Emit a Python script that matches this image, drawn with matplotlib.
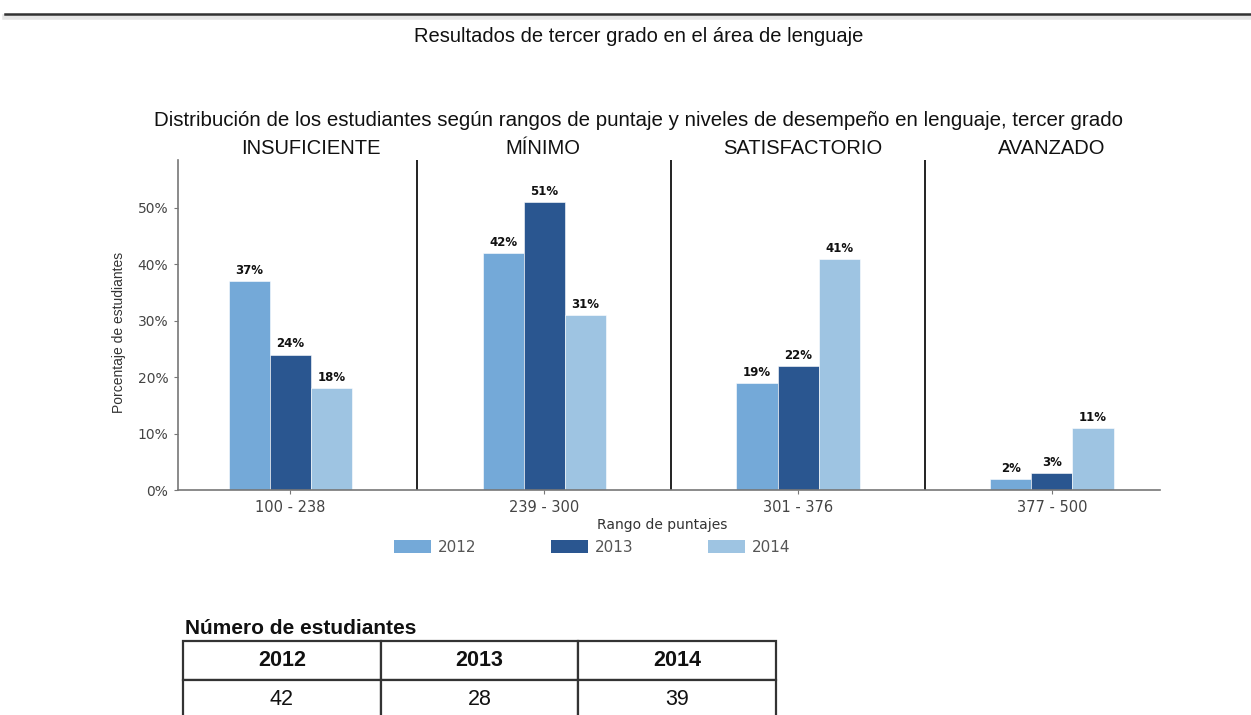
import matplotlib
matplotlib.use("Agg")
import matplotlib.pyplot as plt
from matplotlib.lines import Line2D
from matplotlib.patches import Patch
import numpy as np

plt.rcParams["font.family"] = ["DejaVu Sans"]

# ---- data ----
rangos = ["100 - 238", "239 - 300", "301 - 376", "377 - 500"]
niveles = ["INSUFICIENTE", "MÍNIMO", "SATISFACTORIO", "AVANZADO"]
years = ["2012", "2013", "2014"]
v2012 = [37, 42, 19, 2]
v2013 = [24, 51, 22, 3]
v2014 = [18, 31, 41, 11]
yticks = [0, 10, 20, 30, 40, 50]
num_estudiantes = ["42", "28", "39"]

colors = ["#74A9D8", "#2A5690", "#9EC4E2"]

W, H = 1251, 715
fig = plt.figure(figsize=(W / 100, H / 100), dpi=100)
fig.patch.set_facecolor("white")

def fx(px):
    return px / W

def fy(py):
    return 1 - py / H

# top rule
fig.add_artist(Line2D([fx(5), 1], [fy(17), fy(17)], color="#e6e6e6", lw=4))
fig.add_artist(Line2D([fx(5), 1], [fy(13.5), fy(13.5)], color="#333333", lw=1.8))

fig.text(fx(639), fy(36), "Resultados de tercer grado en el área de lenguaje",
         ha="center", va="center", fontsize=14.5, family="Liberation Sans", color="#111")
fig.text(fx(638), fy(121),
         "Distribución de los estudiantes según rangos de puntaje y niveles de desempeño en lenguaje, tercer grado",
         ha="center", va="center", fontsize=14.8, family="Liberation Sans", color="#111")

# ---- main axes ----
ax = fig.add_axes([fx(178), fy(490), fx(1160) - fx(178), fy(160) - fy(490)])
x = np.arange(len(rangos))
bw = 0.162
series = [v2012, v2013, v2014]
for i, (vals, c, yr) in enumerate(zip(series, colors, years)):
    bars = ax.bar(x + (i - 1) * bw, vals, width=bw, color=c, label=yr,
                  edgecolor="white", linewidth=0.4)
    for b, v in zip(bars, vals):
        ax.annotate(f"{v}%", (b.get_x() + b.get_width() / 2, b.get_height()),
                    xytext=(0, 3), textcoords="offset points", ha="center", va="bottom",
                    fontsize=8.5, fontweight="bold", color="#111", family="DejaVu Sans")

ax.set_xlim(-0.443, 3.426)
ax.set_ylim(0, 58.5)
ax.set_yticks(yticks)
ax.set_yticklabels([f"{t}%" for t in yticks])
ax.set_xticks(x)
ax.set_xticklabels(rangos)
for sp in ["top", "right"]:
    ax.spines[sp].set_visible(False)
for sp in ["left", "bottom"]:
    ax.spines[sp].set_color("#777777")
    ax.spines[sp].set_linewidth(1.2)
ax.tick_params(axis="y", length=3, color="#777777", labelsize=10, labelcolor="#444444", pad=4)
ax.tick_params(axis="x", length=3, color="#777777", labelsize=10.5, labelcolor="#444444", pad=4)
for lbl in ax.get_xticklabels() + ax.get_yticklabels():
    lbl.set_family("DejaVu Sans")

for xs in [0.5, 1.5, 2.5]:
    ax.axvline(xs, color="#111111", lw=1.3)

hdr_x = [0.08, 0.995, 2.02, 3.0]
for hx, name in zip(hdr_x, niveles):
    ax.annotate(name, (hx, 1), xycoords=("data", "axes fraction"), xytext=(0, 1.5),
                textcoords="offset points", ha="center", va="bottom",
                fontsize=14.5, family="Liberation Sans", color="#111", annotation_clip=False)

fig.text(fx(119), fy(332), "Porcentaje de estudiantes", rotation=90, ha="center", va="center",
         fontsize=10, family="Liberation Sans", color="#333")
fig.text(fx(662), fy(525), "Rango de puntajes", ha="center", va="center",
         fontsize=10, family="DejaVu Sans", color="#333")

handles = [Patch(facecolor=c, edgecolor="none") for c in colors]
leg = fig.legend(handles, years, loc="center", bbox_to_anchor=(fx(592), fy(547)), ncol=3,
                 frameon=False, prop={"family": "DejaVu Sans", "size": 11},
                 handlelength=2.4, handleheight=0.9,
                 handletextpad=0.45, columnspacing=4.9, borderaxespad=0, borderpad=0)
for t in leg.get_texts():
    t.set_color("#555555")

# ---- table ----
fig.text(fx(185), fy(628), "Número de estudiantes", ha="left", va="center",
         fontsize=15, fontweight="bold", family="Liberation Sans", color="#111")
tax = fig.add_axes([fx(183), fy(719), fx(776) - fx(183), fy(641) - fy(719)])
tax.axis("off")
tbl = tax.table(cellText=[num_estudiantes], colLabels=years, cellLoc="center",
                bbox=[0, 0, 1, 1])
tbl.auto_set_font_size(False)
for (r, c), cell in tbl.get_celld().items():
    cell.set_edgecolor("#333333")
    cell.set_linewidth(1.6)
    txt = cell.get_text()
    txt.set_family("Liberation Sans")
    txt.set_fontsize(15.5)
    txt.set_color("#111")
    if r == 0:
        txt.set_fontweight("bold")

fig.savefig("out.png", dpi=100, facecolor="white")
